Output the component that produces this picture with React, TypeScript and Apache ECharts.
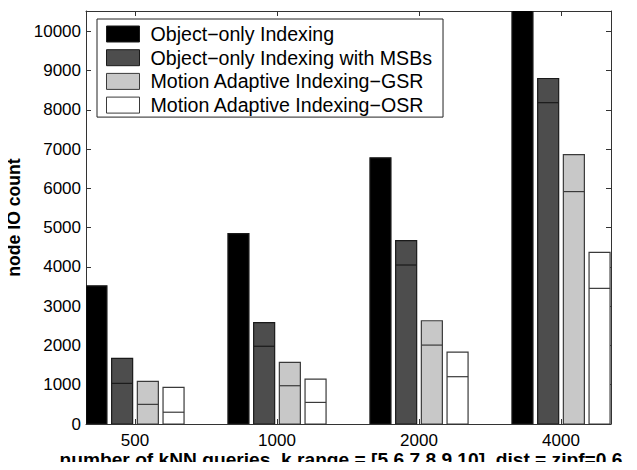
import React, { useEffect, useRef } from "react";
import * as echarts from "echarts";

const categories = ["500", "1000", "2000", "4000"];
const seriesNames = [
  "Object−only Indexing",
  "Object−only Indexing with MSBs",
  "Motion Adaptive Indexing−GSR",
  "Motion Adaptive Indexing−OSR",
];
const xTitle = "number of kNN queries, k range = [5 6 7 8 9 10], dist = zipf=0.6";
const yTitle = "node IO count";
const objectOnlyTotal = [3520, 4850, 6780, 10600];
const msbTotal = [1670, 2580, 4670, 8800];
const msbLower = [1035, 1980, 4050, 8185];
const gsrTotal = [1085, 1570, 2630, 6860];
const gsrLower = [500, 975, 2010, 5920];
const osrTotal = [935, 1145, 1830, 4370];
const osrLower = [300, 550, 1205, 3455];
const yTicks = [0, 1000, 2000, 3000, 4000, 5000, 6000, 7000, 8000, 9000, 10000];
const xPositions = [1, 2, 3, 4];

const fills = ["#000000", "#4d4d4d", "#c8c8c8", "#ffffff"];
const strokes = ["#1a1a1a", "#1a1a1a", "#3a3a3a", "#3a3a3a"];
const FONT = "'Liberation Sans', Arial, Helvetica, sans-serif";
const AXIS_COLOR = "#333";

export default function App() {
  const ref = useRef<HTMLDivElement>(null);
  useEffect(() => {
    if (!ref.current) return;
    const chart = echarts.init(ref.current, null, { renderer: "svg" });
    const totals = [objectOnlyTotal, msbTotal, gsrTotal, osrTotal];
    const lowers: (number[] | null)[] = [null, msbLower, gsrLower, osrLower];
    const BAR_W = 0.148;
    const STEP = 0.181;

    const series = seriesNames.map((name, k) => ({
      name,
      type: "custom",
      clip: true,
      xAxisIndex: 0,
      yAxisIndex: 0,
      itemStyle: { color: fills[k], borderColor: strokes[k], borderWidth: 1 },
      data: xPositions.map((x, i) => [x, totals[k][i], lowers[k] ? (lowers[k] as number[])[i] : -1]),
      renderItem: (params: any, api: any) => {
        const x = api.value(0);
        const total = api.value(1);
        const lower = api.value(2);
        const band = api.size([1, 0])[0];
        const base = api.coord([x, 0]);
        const top = api.coord([x, total]);
        const w = band * BAR_W;
        const cx = base[0] + band * (k - 1.5) * STEP;
        const children: any[] = [
          {
            type: "rect",
            shape: { x: cx - w / 2, y: top[1], width: w, height: base[1] - top[1] },
            style: { fill: fills[k], stroke: strokes[k], lineWidth: 1.2 },
          },
        ];
        if (lower >= 0) {
          const mid = api.coord([x, lower]);
          children.push({
            type: "line",
            shape: { x1: cx - w / 2, y1: mid[1], x2: cx + w / 2, y2: mid[1] },
            style: { stroke: strokes[k], lineWidth: 1.2 },
          });
        }
        return { type: "group", children };
      },
    }));

    const xCommon = {
      type: "value",
      min: 0.655,
      max: 4.352,
      splitLine: { show: false },
      axisLine: { show: true, onZero: false, lineStyle: { color: AXIS_COLOR, width: 1 } },
      axisTick: { show: true, inside: true, length: 5, customValues: xPositions, lineStyle: { color: AXIS_COLOR } },
    };
    const yCommon = {
      type: "value",
      min: 0,
      max: 10520,
      splitLine: { show: false },
      axisLine: { show: true, onZero: false, lineStyle: { color: AXIS_COLOR, width: 1 } },
      axisTick: { show: true, inside: true, length: 5, customValues: yTicks, lineStyle: { color: AXIS_COLOR } },
    };

    chart.setOption({
      animation: false,
      backgroundColor: "#fff",
      grid: { left: 86, top: 11, right: 26, bottom: 46, containLabel: false, outerBoundsMode: "none" },
      legend: {
        orient: "vertical",
        left: 97,
        top: 19,
        padding: [5, 11, 2, 9],
        itemWidth: 33,
        itemHeight: 16,
        itemGap: 3.7,
        icon: "rect",
        borderColor: "#222",
        borderWidth: 1,
        backgroundColor: "#fff",
        selectedMode: false,
        z: 10,
        textStyle: { fontSize: 19.6, lineHeight: 19, color: "#000", fontFamily: FONT, padding: [0, 0, 0, 6] },
        data: seriesNames.map((name, k) => ({
          name,
          itemStyle: { color: fills[k], borderColor: strokes[k], borderWidth: 1 },
        })),
      },
      graphic: [
        {
          type: "text",
          x: 341,
          y: 469,
          scaleX: 1.09,
          z: 10,
          style: {
            text: xTitle,
            fontSize: 17.6,
            fontWeight: "bold",
            fontFamily: FONT,
            fill: "#000",
            textAlign: "center",
            textVerticalAlign: "bottom",
          },
        },
      ],
      xAxis: [
        {
          ...xCommon,
          position: "bottom",
          axisLabel: {
            show: true,
            customValues: xPositions,
            formatter: (v: number) => categories[Math.round(v) - 1] ?? "",
            fontSize: 17,
            color: "#000",
            fontFamily: FONT,
            margin: 8,
          },
        },
        {
          ...xCommon,
          position: "top",
          axisLabel: { show: false },
        },
      ],
      yAxis: [
        {
          ...yCommon,
          position: "left",
          name: yTitle,
          nameLocation: "middle",
          nameGap: 45,
          nameTextStyle: { fontSize: 17.6, fontWeight: "bold", color: "#000", fontFamily: FONT, padding: [0, 0, 8, 0] },
          axisLabel: {
            show: true,
            customValues: yTicks,
            formatter: (v: number) => String(v),
            fontSize: 17,
            color: "#000",
            fontFamily: FONT,
            margin: 5,
          },
        },
        {
          ...yCommon,
          position: "right",
          axisLabel: { show: false },
        },
      ],
      series,
    });
    return () => chart.dispose();
  }, []);
  return <div ref={ref} style={{ width: 637, height: 470, margin: -8 }} />;
}
